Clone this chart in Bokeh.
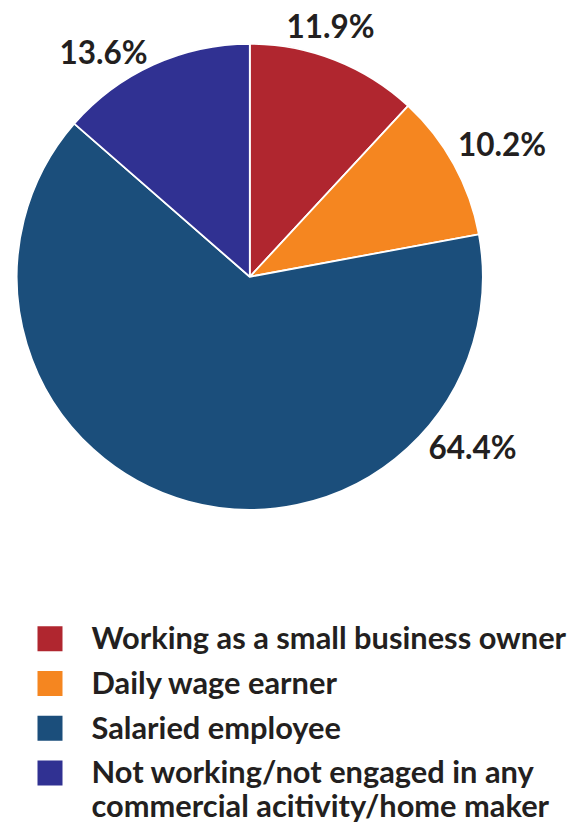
import numpy as np
from bokeh.plotting import figure
from bokeh.models import Range1d, ColumnDataSource
from bokeh.core.properties import value
from bokeh.embed import file_html
from bokeh.resources import INLINE

# ---- data ----
categories = [
    "Working as a small business owner",
    "Daily wage earner",
    "Salaried employee",
    "Not working/not engaged in any\ncommercial acitivity/home maker",
]
shares = [11.9, 10.2, 64.4, 13.6]
share_labels = ["11.9%", "10.2%", "64.4%", "13.6%"]
colors = ["#B0262F", "#F58620", "#1B4E7B", "#303192"]

# ---- layout (picture pixel coords -> data coords) ----
W, H = 587, 823
TXT_SHIFT = 12  # rendered alphabetic baseline sits lower than requested
def dx(x):
    return x
def dy(y):
    return H - y

FONT = "Lato"
cx, cy, R = dx(249.3), dy(276.3), 233

p = figure(width=W, height=H, x_range=Range1d(0, W), y_range=Range1d(0, H),
           output_backend="svg", toolbar_location=None, min_border=0)
p.axis.visible = False
p.grid.visible = False
p.outline_line_color = None
p.background_fill_color = "white"

vals = np.array(shares, dtype=float)
frac = vals / vals.sum()
cum = np.concatenate([[0], np.cumsum(frac)])
start = np.pi / 2 - 2 * np.pi * cum[:-1]
end = np.pi / 2 - 2 * np.pi * cum[1:]

src = ColumnDataSource(dict(start=start, end=end, color=colors))
p.wedge(x=cx, y=cy, radius=R, start_angle="start", end_angle="end",
        direction="clock", fill_color="color", line_color="white",
        line_width=1.8, source=src)

# percentage labels (annotation positions, page coords of baseline centre)
label_pos = [(330, 37), (501.5, 155), (472, 458), (103, 63)]
p.text(x=[dx(a) for a, b in label_pos],
       y=[dy(b - TXT_SHIFT) for a, b in label_pos],
       text=share_labels, text_font=value(FONT), text_font_style="bold",
       text_font_size="31.5px", text_color="#231F20",
       text_align="center", text_baseline="alphabetic")

# legend
sq_x = 49.5
sq_y0, sq_step = 638.3, 44.7
sq_size = 25
ys = [sq_y0 + i * sq_step for i in range(len(categories))]
p.rect(x=[dx(sq_x)] * len(categories), y=[dy(v) for v in ys],
       width=sq_size, height=sq_size, fill_color=colors, line_color=None)

tx, ty, tys = [], [], []
line_h = 34
for i, cat in enumerate(categories):
    for j, line in enumerate(cat.split("\n")):
        tx.append(dx(91))
        ty.append(dy(ys[i] + 11 + j * line_h - TXT_SHIFT))
        tys.append(line)
p.text(x=tx, y=ty, text=tys, text_font=value(FONT), text_font_style="bold",
       text_font_size="30.8px", text_color="#231F20",
       text_align="left", text_baseline="alphabetic")

open("out.html", "w").write(file_html(p, INLINE))
